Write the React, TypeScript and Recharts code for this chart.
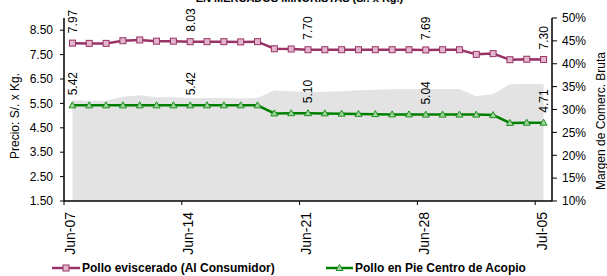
import React from 'react';
import { ComposedChart, Line, Area, XAxis, YAxis, Legend } from 'recharts';

const days = [
  'Jun-07', 'Jun-08', 'Jun-09', 'Jun-10', 'Jun-11', 'Jun-12', 'Jun-13',
  'Jun-14', 'Jun-15', 'Jun-16', 'Jun-17', 'Jun-18', 'Jun-19', 'Jun-20',
  'Jun-21', 'Jun-22', 'Jun-23', 'Jun-24', 'Jun-25', 'Jun-26', 'Jun-27',
  'Jun-28', 'Jun-29', 'Jun-30', 'Jul-01', 'Jul-02', 'Jul-03', 'Jul-04',
  'Jul-05',
];

// Pollo eviscerado (Al Consumidor), S/. x Kg.
const consumidor = [
  7.97, 7.96, 7.96, 8.07, 8.10, 8.05, 8.05, 8.03, 8.03, 8.03, 8.02, 8.03, 7.74, 7.73,
  7.70, 7.70, 7.70, 7.70, 7.70, 7.70, 7.70, 7.69, 7.70, 7.70, 7.51, 7.54, 7.29, 7.31,
  7.30,
];

// Pollo en Pie Centro de Acopio, S/. x Kg.
const acopio = [
  5.42, 5.42, 5.42, 5.42, 5.42, 5.42, 5.42, 5.42, 5.42, 5.42, 5.42, 5.42, 5.09, 5.10,
  5.10, 5.09, 5.08, 5.07, 5.06, 5.05, 5.05, 5.04, 5.04, 5.04, 5.04, 5.02, 4.70, 4.71,
  4.71,
];

// Margen de comercializacion bruta (%), grey area
const margen = [
  32.0, 31.9, 31.9, 32.8, 33.1, 32.7, 32.7, 32.5, 32.5, 32.5, 32.4, 32.5, 34.2, 34.0,
  33.8, 33.9, 34.0, 34.2, 34.3, 34.4, 34.4, 34.5, 34.5, 34.5, 32.9, 33.4, 35.5, 35.6,
  35.5,
];

const priceTicks = [1.5, 2.5, 3.5, 4.5, 5.5, 6.5, 7.5, 8.5];
const marginTicks = [10, 15, 20, 25, 30, 35, 40, 45, 50];
const labelledIdx = [0, 7, 14, 21, 28];

const data = days.map((d, i) => ({
  day: d,
  consumidor: consumidor[i],
  acopio: acopio[i],
  margen: margen[i],
}));

const FONT = "'Liberation Sans', Arial, sans-serif";
const PINK = '#993366';
const GREEN = '#008000';
const BAND = 488 / days.length;

const SquareDot = (props: any) => {
  const { cx, cy, index } = props;
  if (cx == null || cy == null) return null;
  return (
    <rect key={`sq-${index}`} x={cx - 3} y={cy - 3} width={6} height={6}
      fill="#e2b6cc" stroke={PINK} strokeWidth={1} />
  );
};

const TriDot = (props: any) => {
  const { cx, cy, index } = props;
  if (cx == null || cy == null) return null;
  return (
    <path key={`tr-${index}`} d={`M${cx},${cy - 3.5} L${cx + 3.5},${cy + 2.5} L${cx - 3.5},${cy + 2.5} Z`}
      fill="#9fd49f" stroke="#1f8f1f" strokeWidth={1} />
  );
};

const valueLabel = (props: any) => {
  const { x, y, value, index } = props;
  if (!labelledIdx.includes(index)) return null;
  return (
    <text key={`lb-${index}`} transform={`translate(${x + 4.3},${y - 10}) rotate(-90)`}
      textAnchor="start" fontSize={12} fontFamily={FONT} fill="#000">
      {Number(value).toFixed(2)}
    </text>
  );
};

const XTick = (props: any) => {
  const { x, y, payload } = props;
  return (
    <g>
      <line x1={x - BAND / 2} x2={x - BAND / 2} y1={y} y2={y + 4} stroke="#000" />
      <text transform={`translate(${x + 3},${y + 11}) rotate(-90)`} textAnchor="end"
        fontSize={14} fontFamily={FONT} fill="#000">
        {payload.value}
      </text>
    </g>
  );
};

const LegendContent = () => (
  <div style={{ position: 'relative', height: 18, fontFamily: FONT, fontSize: 12, fontWeight: 'bold', color: '#000' }}>
    <svg width={30} height={18} style={{ position: 'absolute', left: 52, top: 0 }}>
      <line x1={0} x2={28} y1={10} y2={10} stroke={PINK} strokeWidth={2.5} />
      <rect x={11} y={7} width={6} height={6} fill="#e2b6cc" stroke={PINK} />
    </svg>
    <span style={{ position: 'absolute', left: 82, top: 3, whiteSpace: 'nowrap' }}>Pollo eviscerado (Al Consumidor)</span>
    <svg width={30} height={18} style={{ position: 'absolute', left: 326, top: 0 }}>
      <line x1={0} x2={27} y1={10} y2={10} stroke={GREEN} strokeWidth={2.5} />
      <path d="M13.5,6.5 L17,12.5 L10,12.5 Z" fill="#9fd49f" stroke="#1f8f1f" />
    </svg>
    <span style={{ position: 'absolute', left: 355, top: 3, whiteSpace: 'nowrap' }}>Pollo en Pie Centro de Acopio</span>
  </div>
);

export default function App() {
  return (
    <div style={{ position: 'absolute', left: 0, top: 0, width: 607, height: 276, overflow: 'hidden', background: '#fff' }}>
      <div style={{ position: 'absolute', left: 0, width: 607, top: -8, textAlign: 'center',
        fontFamily: FONT, fontSize: 11, fontWeight: 'bold', lineHeight: '13px', color: '#000' }}>
        <span style={{ position: 'relative', left: -4 }}>EN MERCADOS MINORISTAS (S/. x Kg.)</span>
      </div>
      <ComposedChart width={607} height={276} data={data}
        margin={{ top: 18, right: 0, bottom: 0, left: 0 }}>
        <XAxis dataKey="day" xAxisId="x" scale="band" interval={6} height={57}
          tickLine={false} tickSize={0} tickMargin={0}
          axisLine={{ stroke: '#000', strokeWidth: 1.5 }}
          tick={<XTick />} />
        <YAxis yAxisId="left" domain={[1.5, 9]} ticks={priceTicks} width={64}
          allowDataOverflow
          tickFormatter={(v: number) => v.toFixed(2)}
          axisLine={{ stroke: '#000', strokeWidth: 1.5 }}
          tickLine={{ stroke: '#000' }} tickSize={4} tickMargin={7}
          tick={{ fontSize: 12, fontFamily: FONT, fill: '#000' }} />
        <YAxis yAxisId="right" orientation="right" domain={[10, 50]} ticks={marginTicks} width={55}
          tickFormatter={(v: number) => `${v}%`}
          axisLine={{ stroke: '#000', strokeWidth: 1.5 }}
          tickLine={{ stroke: '#000' }} tickSize={5} tickMargin={5}
          tick={{ fontSize: 12, fontFamily: FONT, fill: '#000' }} />
        <Area xAxisId="x" yAxisId="right" type="linear" dataKey="margen" stroke="none"
          fill="#e3e3e3" fillOpacity={1} isAnimationActive={false} dot={false} activeDot={false} />
        <Line xAxisId="x" yAxisId="left" type="linear" dataKey="consumidor" stroke={PINK}
          strokeWidth={2.5} dot={<SquareDot />} label={valueLabel} isAnimationActive={false} />
        <Line xAxisId="x" yAxisId="left" type="linear" dataKey="acopio" stroke={GREEN}
          strokeWidth={2.5} dot={<TriDot />} label={valueLabel} isAnimationActive={false} />
        <Legend verticalAlign="bottom" content={<LegendContent />}
          wrapperStyle={{ left: 0, width: 607 }} />
      </ComposedChart>
      <div style={{ position: 'absolute', left: 15, top: 116, transform: 'translate(-50%, -50%) rotate(-90deg)',
        whiteSpace: 'nowrap', fontFamily: FONT, fontSize: 12, color: '#000' }}>
        Precio: S/. x Kg.
      </div>
      <div style={{ position: 'absolute', left: 601, top: 121, transform: 'translate(-50%, -50%) rotate(-90deg)',
        whiteSpace: 'nowrap', fontFamily: FONT, fontSize: 12, color: '#000' }}>
        Margen de Comerc. Bruta
      </div>
    </div>
  );
}
